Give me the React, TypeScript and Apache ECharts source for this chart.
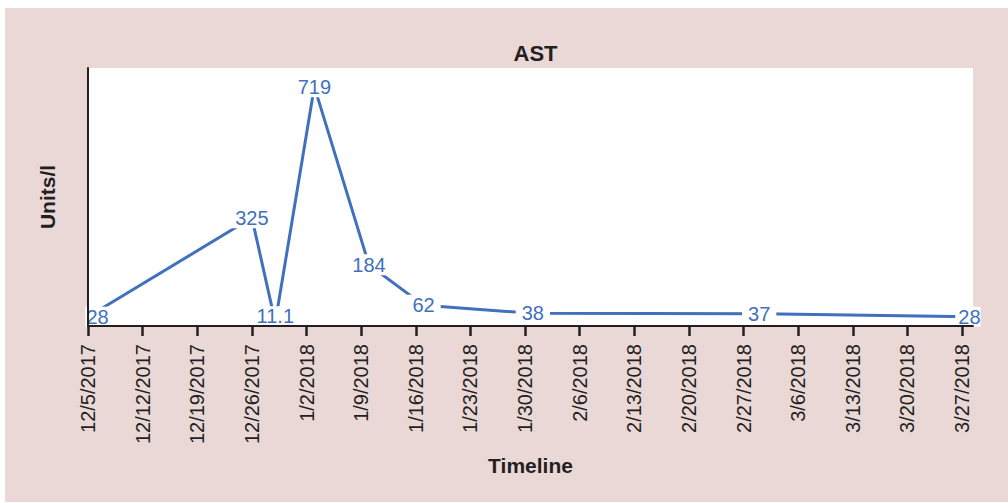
import React, { useEffect, useRef } from "react";
import * as echarts from "echarts";

const tickInterval = 7;
const xMax = 113.4;
const yMax = 775;

const pointDates = [
  "2017-12-05",
  "2017-12-26",
  "2017-12-29",
  "2018-01-03",
  "2018-01-10",
  "2018-01-17",
  "2018-01-31",
  "2018-03-01",
  "2018-03-28",
];
const astValues = [28, 325, 11.1, 719, 184, 62, 38, 37, 28];
const astLabels = ["28", "325", "11.1", "719", "184", "62", "38", "37", "28"];

const DAY = 24 * 3600 * 1000;
const base = Date.UTC(2017, 11, 5);
const toDay = (s: string) => {
  const [y, m, d] = s.split("-").map(Number);
  return Math.round((Date.UTC(y, m - 1, d) - base) / DAY);
};
const dayLabel = (v: number) => {
  const dt = new Date(base + Math.round(v) * DAY);
  return `${dt.getUTCMonth() + 1}/${dt.getUTCDate()}/${dt.getUTCFullYear()}`;
};

const BLUE = "#4170bd";
const FONT = "Liberation Sans";

export default function App() {
  const ref = useRef<HTMLDivElement>(null);
  useEffect(() => {
    if (!ref.current) return;
    const chart = echarts.init(ref.current, null, { renderer: "svg" });
    const last = pointDates.length - 1;
    const data = pointDates.map((d, i) => {
      let offset = [0, 0];
      let padding = [2, 6, 1, 6];
      if (i === 0) {
        offset = [12, 0];
        padding = [2, 6, 0, 1];
      } else if (astLabels[i] === "11.1") {
        offset = [0, -6];
        padding = [2, 6, 0, 6];
      } else if (i === last) {
        offset = [-2, 0];
        padding = [2, 0, 0, 3];
      }
      return {
        value: [toDay(d), astValues[i]],
        label: { formatter: astLabels[i], padding, offset },
      };
    });
    chart.setOption({
      animation: false,
      backgroundColor: "#ffffff",
      textStyle: { fontFamily: FONT },
      graphic: [
        {
          type: "rect",
          z: -10,
          silent: true,
          shape: { x: 5, y: 8, width: 1003, height: 494 },
          style: { fill: "#ead8d7" },
        },
      ],
      title: {
        text: "AST",
        left: 530.5,
        textAlign: "center",
        top: 37,
        textStyle: { fontFamily: FONT, fontSize: 22, fontWeight: "bold", color: "#231f20" },
      },
      grid: {
        left: 88,
        right: 35,
        top: 68,
        bottom: 177,
        show: true,
        backgroundColor: "#ffffff",
        borderWidth: 0,
      },
      xAxis: {
        type: "value",
        min: 0,
        max: xMax,
        interval: tickInterval,
        z: 10,
        name: "Timeline",
        nameLocation: "middle",
        nameGap: 129,
        nameTextStyle: { fontFamily: FONT, fontSize: 21, fontWeight: "bold", color: "#231f20" },
        axisLine: { show: true, lineStyle: { color: "#231f20", width: 2 } },
        axisTick: { show: true, length: 10, lineStyle: { color: "#231f20", width: 2.5 } },
        splitLine: { show: false },
        axisLabel: {
          rotate: 90,
          margin: 18,
          fontFamily: FONT,
          fontSize: 20,
          color: "#231f20",
          showMaxLabel: false,
          formatter: (v: number) => (v > 112.5 ? "" : dayLabel(v)),
        },
      },
      yAxis: {
        type: "value",
        min: 0,
        max: yMax,
        z: 10,
        name: "Units/l",
        nameLocation: "middle",
        nameGap: 30,
        nameTextStyle: { fontFamily: FONT, fontSize: 21, fontWeight: "bold", color: "#231f20" },
        axisLine: { show: true, lineStyle: { color: "#231f20", width: 2 } },
        axisTick: { show: false },
        axisLabel: { show: false },
        splitLine: { show: false },
      },
      series: [
        {
          type: "line",
          data,
          symbol: "circle",
          symbolSize: 1,
          showSymbol: true,
          itemStyle: { color: "rgba(0,0,0,0)" },
          lineStyle: { color: BLUE, width: 3 },
          label: {
            show: true,
            position: "inside",
            color: BLUE,
            fontFamily: FONT,
            fontSize: 20,
            lineHeight: 18,
            backgroundColor: "#ffffff",
          },
        },
      ],
    });
    return () => chart.dispose();
  }, []);
  return (
    <div
      ref={ref}
      style={{ position: "fixed", left: 0, top: 0, width: 1008, height: 503 }}
    />
  );
}
